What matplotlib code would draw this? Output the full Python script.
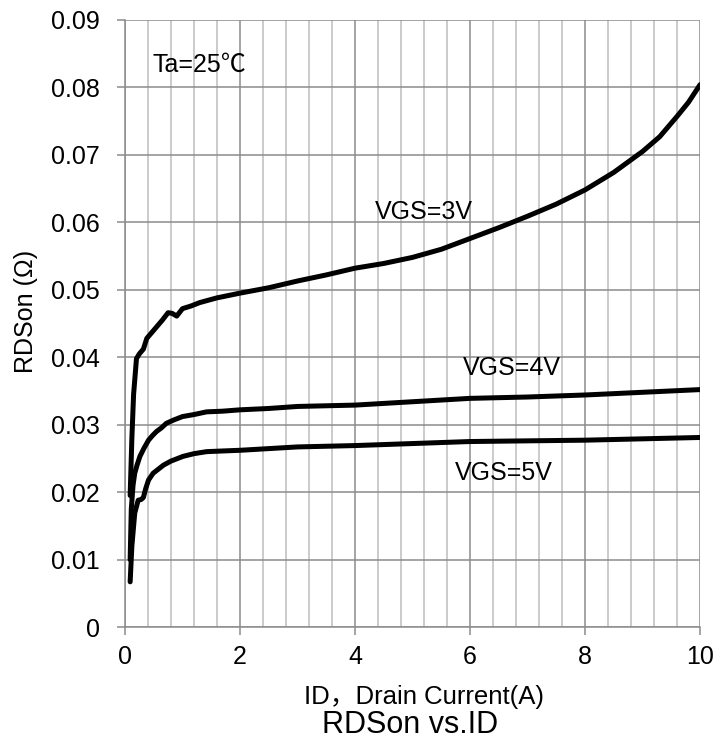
import matplotlib
matplotlib.use("Agg")
import matplotlib.pyplot as plt
from matplotlib.ticker import MultipleLocator

plt.rcParams["font.family"] = ["Liberation Sans", "Noto Sans CJK SC", "DejaVu Sans"]

# VGS = 3V
id_3v = [0.09, 0.12, 0.15, 0.2, 0.25, 0.32, 0.38, 0.45, 0.55, 0.65, 0.75, 0.82, 0.9,
         1.0, 1.15, 1.3, 1.6, 2.0, 2.5, 3.0, 3.5, 4.0, 4.5, 5.0, 5.5, 6.0, 6.5, 7.0,
         7.5, 8.0, 8.5, 9.0, 9.3, 9.6, 9.8, 10.0]
rds_3v = [0.0195, 0.028, 0.0345, 0.0398, 0.0405, 0.0412, 0.0428, 0.0435, 0.0445, 0.0455,
          0.0466, 0.0465, 0.0461, 0.0472, 0.0476, 0.0481, 0.0488, 0.0495, 0.0503, 0.0513,
          0.0522, 0.0532, 0.0539, 0.0548, 0.056, 0.0576, 0.0592, 0.0609, 0.0627, 0.0648,
          0.0674, 0.0705, 0.0727, 0.0757, 0.0778, 0.0804]

# VGS = 4V
id_4v = [0.09, 0.11, 0.14, 0.17, 0.21, 0.26, 0.33, 0.41, 0.48, 0.55, 0.63, 0.72, 0.85,
         1.0, 1.2, 1.42, 1.7, 2.0, 2.5, 3.0, 4.0, 5.0, 6.0, 7.0, 8.0, 9.0, 10.0]
rds_4v = [0.0100, 0.0175, 0.021, 0.0228, 0.024, 0.0253, 0.0265, 0.0277, 0.0284, 0.029,
          0.0295, 0.0302, 0.0307, 0.0312, 0.0315, 0.0319, 0.032, 0.0322, 0.0324, 0.0327,
          0.0329, 0.0334, 0.0339, 0.0341, 0.0344, 0.0348, 0.0352]

# VGS = 5V
id_5v = [0.09, 0.12, 0.17, 0.23, 0.28, 0.32, 0.36, 0.41, 0.49, 0.58, 0.67, 0.8, 1.01,
         1.2, 1.42, 1.7, 2.0, 3.0, 4.0, 5.0, 6.0, 7.0, 8.0, 9.0, 10.0]
rds_5v = [0.0067, 0.012, 0.0169, 0.0188, 0.0189, 0.0192, 0.0205, 0.0218, 0.0228, 0.0234,
          0.024, 0.0246, 0.0253, 0.0257, 0.026, 0.0261, 0.0262, 0.0267, 0.0269, 0.0272,
          0.0275, 0.0276, 0.0277, 0.0279, 0.0281]

fig = plt.figure(figsize=(7.17, 7.51), dpi=100)
ax = fig.add_axes([0.1743, 0.1651, 0.802, 0.8083])

for xs, ys in [(id_3v, rds_3v), (id_4v, rds_4v), (id_5v, rds_5v)]:
    ax.plot(xs, ys, color="black", linewidth=3.6, solid_capstyle="round",
            solid_joinstyle="round", zorder=3)

ax.set_xlim(0, 10)
ax.set_ylim(0, 0.09)
ax.xaxis.set_major_locator(MultipleLocator(2))
ax.xaxis.set_minor_locator(MultipleLocator(0.4))
ax.yaxis.set_major_locator(MultipleLocator(0.01))
ax.yaxis.set_major_formatter(plt.FuncFormatter(lambda v, p: "0" if abs(v) < 1e-9 else f"{v:.2f}"))

ax.grid(which="major", axis="both", color="#8c8c8c", linewidth=1.1)
ax.grid(which="minor", axis="x", color="#bdbdbd", linewidth=1.1)
ax.set_axisbelow(True)

for side in ["top", "right"]:
    ax.spines[side].set_visible(False)
for side in ["left", "bottom"]:
    ax.spines[side].set_color("#8c8c8c")
    ax.spines[side].set_linewidth(1.1)

ax.tick_params(which="major", direction="out", length=6, width=1.1, color="#8c8c8c",
               labelsize=18)
ax.tick_params(axis="y", pad=12)
ax.tick_params(axis="x", pad=7)
ax.tick_params(which="minor", length=0)

ax.set_ylabel("RDSon (Ω)", fontsize=18, va="center")
ax.yaxis.set_label_coords(-0.172, 0.52)
ax.set_xlabel("ID，Drain Current(A)", fontsize=18.5, va="center")
ax.xaxis.set_label_coords(0.52, -0.115)
fig.text(0.572, 0.034, "RDSon vs.ID", ha="center", va="center", fontsize=22)

ax.text(0.487, 0.0833, "Ta=25℃", fontsize=18, va="center")
ax.text(4.35, 0.0615, "VGS=3V", fontsize=18, va="center")
ax.text(5.88, 0.0384, "VGS=4V", fontsize=18, va="center")
ax.text(5.74, 0.0228, "VGS=5V", fontsize=18, va="center")

fig.savefig("out.png", dpi=100)
